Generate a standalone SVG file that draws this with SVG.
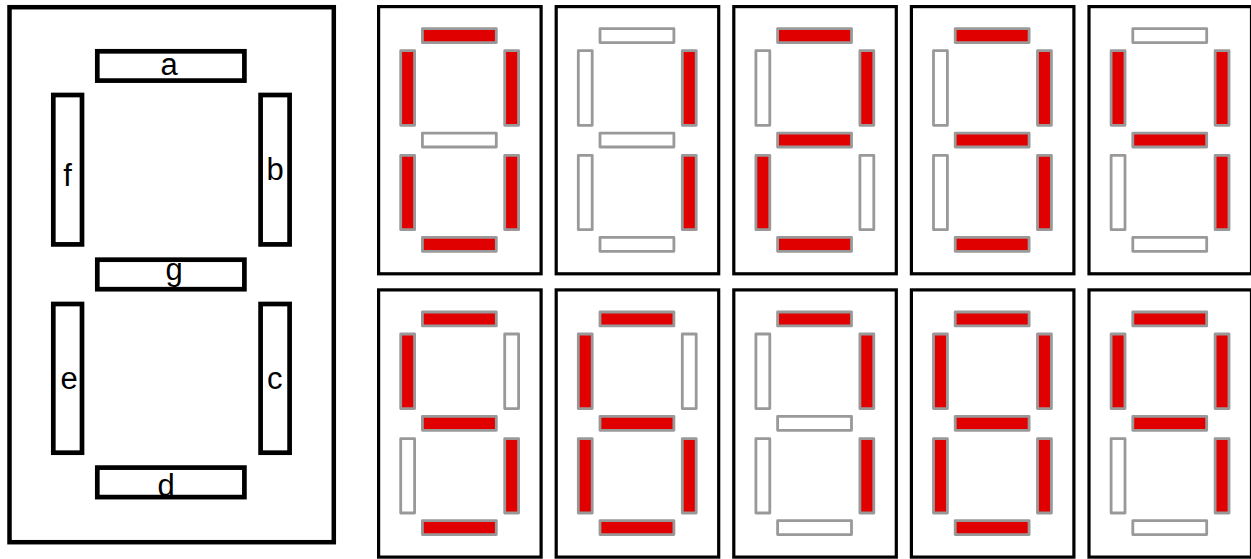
<svg xmlns="http://www.w3.org/2000/svg" width="1251" height="559" viewBox="0 0 1251 559">
<style>
.bg{fill:#fff}
.frame{fill:#fff;stroke:#000;stroke-width:3.2}
.big{fill:#fff;stroke:#000;stroke-width:4.5}
.lseg{fill:#fff;stroke:#000;stroke-width:4.7}
.seg{stroke:#999;stroke-width:2.8;stroke-linejoin:round}
.on{fill:#e00000}
.off{fill:#fff}
.lbl{font-family:"Liberation Sans",Arial,sans-serif;font-size:31px;text-anchor:middle;fill:#000}
</style>
<defs>
<g id="frame"><rect class="frame" x="1.6" y="1.6" width="162.5" height="267.2"/></g>
</defs>
<rect class="bg" x="0" y="0" width="1251" height="559"/>

<g id="legend">
<rect class="big" x="9.5" y="7.2" width="324.3" height="535"/>
<g id="seg-a"><rect class="lseg" x="97.3" y="51.3" width="147.1" height="29.3"/><text class="lbl" x="169" y="74.5">a</text></g>
<g id="seg-b"><rect class="lseg" x="260.6" y="95" width="29" height="149.4"/><text class="lbl" x="275" y="180">b</text></g>
<g id="seg-c"><rect class="lseg" x="260.6" y="304" width="29" height="148.7"/><text class="lbl" x="274.7" y="389">c</text></g>
<g id="seg-d"><rect class="lseg" x="97.3" y="467.6" width="147.1" height="29.5"/><text class="lbl" x="166" y="496">d</text></g>
<g id="seg-e"><rect class="lseg" x="53.3" y="304" width="28.7" height="148.7"/><text class="lbl" x="69" y="389">e</text></g>
<g id="seg-f"><rect class="lseg" x="53.3" y="95" width="28.7" height="149.4"/><text class="lbl" x="67.5" y="186">f</text></g>
<g id="seg-g"><rect class="lseg" x="97.3" y="259.7" width="147.1" height="29.5"/><text class="lbl" x="174" y="280">g</text></g>
</g>

<g id="connectors"></g>

<g id="digit-0" transform="translate(377,5)">
<use href="#frame"/>
<rect class="seg on" x="45.4" y="23.7" width="73.9" height="13.9"/>
<rect class="seg on" x="127.7" y="45.7" width="13.9" height="74.6"/>
<rect class="seg on" x="127.7" y="150.4" width="13.9" height="74.3"/>
<rect class="seg on" x="45.4" y="232.4" width="73.9" height="13.9"/>
<rect class="seg on" x="23.7" y="150.4" width="13.9" height="74.3"/>
<rect class="seg on" x="23.7" y="45.7" width="13.9" height="74.6"/>
<rect class="seg off" x="45.4" y="128.1" width="73.9" height="13.9"/>
</g>

<g id="digit-1" transform="translate(554.6,5)">
<use href="#frame"/>
<rect class="seg off" x="45.4" y="23.7" width="73.9" height="13.9"/>
<rect class="seg on" x="127.7" y="45.7" width="13.9" height="74.6"/>
<rect class="seg on" x="127.7" y="150.4" width="13.9" height="74.3"/>
<rect class="seg off" x="45.4" y="232.4" width="73.9" height="13.9"/>
<rect class="seg off" x="23.7" y="150.4" width="13.9" height="74.3"/>
<rect class="seg off" x="23.7" y="45.7" width="13.9" height="74.6"/>
<rect class="seg off" x="45.4" y="128.1" width="73.9" height="13.9"/>
</g>

<g id="digit-2" transform="translate(732.2,5)">
<use href="#frame"/>
<rect class="seg on" x="45.4" y="23.7" width="73.9" height="13.9"/>
<rect class="seg on" x="127.7" y="45.7" width="13.9" height="74.6"/>
<rect class="seg off" x="127.7" y="150.4" width="13.9" height="74.3"/>
<rect class="seg on" x="45.4" y="232.4" width="73.9" height="13.9"/>
<rect class="seg on" x="23.7" y="150.4" width="13.9" height="74.3"/>
<rect class="seg off" x="23.7" y="45.7" width="13.9" height="74.6"/>
<rect class="seg on" x="45.4" y="128.1" width="73.9" height="13.9"/>
</g>

<g id="digit-3" transform="translate(909.8,5)">
<use href="#frame"/>
<rect class="seg on" x="45.4" y="23.7" width="73.9" height="13.9"/>
<rect class="seg on" x="127.7" y="45.7" width="13.9" height="74.6"/>
<rect class="seg on" x="127.7" y="150.4" width="13.9" height="74.3"/>
<rect class="seg on" x="45.4" y="232.4" width="73.9" height="13.9"/>
<rect class="seg off" x="23.7" y="150.4" width="13.9" height="74.3"/>
<rect class="seg off" x="23.7" y="45.7" width="13.9" height="74.6"/>
<rect class="seg on" x="45.4" y="128.1" width="73.9" height="13.9"/>
</g>

<g id="digit-4" transform="translate(1087.4,5)">
<use href="#frame"/>
<rect class="seg off" x="45.4" y="23.7" width="73.9" height="13.9"/>
<rect class="seg on" x="127.7" y="45.7" width="13.9" height="74.6"/>
<rect class="seg on" x="127.7" y="150.4" width="13.9" height="74.3"/>
<rect class="seg off" x="45.4" y="232.4" width="73.9" height="13.9"/>
<rect class="seg off" x="23.7" y="150.4" width="13.9" height="74.3"/>
<rect class="seg on" x="23.7" y="45.7" width="13.9" height="74.6"/>
<rect class="seg on" x="45.4" y="128.1" width="73.9" height="13.9"/>
</g>

<g id="digit-5" transform="translate(377,288.3)">
<use href="#frame"/>
<rect class="seg on" x="45.4" y="23.7" width="73.9" height="13.9"/>
<rect class="seg off" x="127.7" y="45.7" width="13.9" height="74.6"/>
<rect class="seg on" x="127.7" y="150.4" width="13.9" height="74.3"/>
<rect class="seg on" x="45.4" y="232.4" width="73.9" height="13.9"/>
<rect class="seg off" x="23.7" y="150.4" width="13.9" height="74.3"/>
<rect class="seg on" x="23.7" y="45.7" width="13.9" height="74.6"/>
<rect class="seg on" x="45.4" y="128.1" width="73.9" height="13.9"/>
</g>

<g id="digit-6" transform="translate(554.6,288.3)">
<use href="#frame"/>
<rect class="seg on" x="45.4" y="23.7" width="73.9" height="13.9"/>
<rect class="seg off" x="127.7" y="45.7" width="13.9" height="74.6"/>
<rect class="seg on" x="127.7" y="150.4" width="13.9" height="74.3"/>
<rect class="seg on" x="45.4" y="232.4" width="73.9" height="13.9"/>
<rect class="seg on" x="23.7" y="150.4" width="13.9" height="74.3"/>
<rect class="seg on" x="23.7" y="45.7" width="13.9" height="74.6"/>
<rect class="seg on" x="45.4" y="128.1" width="73.9" height="13.9"/>
</g>

<g id="digit-7" transform="translate(732.2,288.3)">
<use href="#frame"/>
<rect class="seg on" x="45.4" y="23.7" width="73.9" height="13.9"/>
<rect class="seg on" x="127.7" y="45.7" width="13.9" height="74.6"/>
<rect class="seg on" x="127.7" y="150.4" width="13.9" height="74.3"/>
<rect class="seg off" x="45.4" y="232.4" width="73.9" height="13.9"/>
<rect class="seg off" x="23.7" y="150.4" width="13.9" height="74.3"/>
<rect class="seg off" x="23.7" y="45.7" width="13.9" height="74.6"/>
<rect class="seg off" x="45.4" y="128.1" width="73.9" height="13.9"/>
</g>

<g id="digit-8" transform="translate(909.8,288.3)">
<use href="#frame"/>
<rect class="seg on" x="45.4" y="23.7" width="73.9" height="13.9"/>
<rect class="seg on" x="127.7" y="45.7" width="13.9" height="74.6"/>
<rect class="seg on" x="127.7" y="150.4" width="13.9" height="74.3"/>
<rect class="seg on" x="45.4" y="232.4" width="73.9" height="13.9"/>
<rect class="seg on" x="23.7" y="150.4" width="13.9" height="74.3"/>
<rect class="seg on" x="23.7" y="45.7" width="13.9" height="74.6"/>
<rect class="seg on" x="45.4" y="128.1" width="73.9" height="13.9"/>
</g>

<g id="digit-9" transform="translate(1087.4,288.3)">
<use href="#frame"/>
<rect class="seg on" x="45.4" y="23.7" width="73.9" height="13.9"/>
<rect class="seg on" x="127.7" y="45.7" width="13.9" height="74.6"/>
<rect class="seg on" x="127.7" y="150.4" width="13.9" height="74.3"/>
<rect class="seg off" x="45.4" y="232.4" width="73.9" height="13.9"/>
<rect class="seg off" x="23.7" y="150.4" width="13.9" height="74.3"/>
<rect class="seg on" x="23.7" y="45.7" width="13.9" height="74.6"/>
<rect class="seg on" x="45.4" y="128.1" width="73.9" height="13.9"/>
</g>
</svg>
